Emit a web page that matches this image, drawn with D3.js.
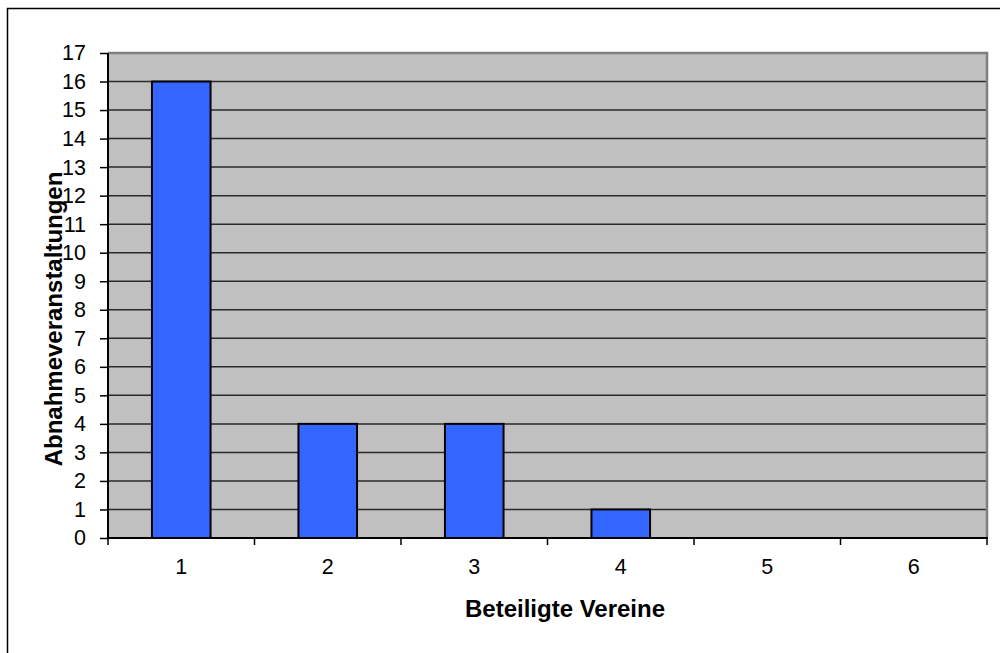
<!DOCTYPE html>
<html>
<head>
<meta charset="utf-8">
<script src="https://cdn.jsdelivr.net/npm/d3@7"></script>
<style>
  html, body { margin: 0; padding: 0; background: #fff; }
  svg { display: block; font-family: "Liberation Sans", Arial, sans-serif; }
</style>
</head>
<body>
<svg id="chart" width="1000" height="653"></svg>
<script>
// Number of participating clubs per event, and how many events had that many
const categories = ["1", "2", "3", "4", "5", "6"];
const events = [16, 4, 4, 1, 0, 0];
const yTicks = d3.range(0, 18);
const xTitle = "Beteiligte Vereine";
const yTitle = "Abnahmeveranstaltungen";

const svg = d3.select("#chart");
const plot = { left: 108, right: 987, top: 53, bottom: 538 };

// Outer chart frame
svg.append("rect")
  .attr("x", 7.5).attr("y", 8.5)
  .attr("width", 1000).attr("height", 700)
  .attr("fill", "#fff").attr("stroke", "#000").attr("stroke-width", 1.5);

const x = d3.scaleBand()
  .domain(categories)
  .range([plot.left, plot.right])
  .paddingInner(0.6).paddingOuter(0.3);

const y = d3.scaleLinear()
  .domain([0, 17])
  .range([plot.bottom, plot.top]);

// Plot area background
svg.append("rect")
  .attr("x", plot.left).attr("y", plot.top)
  .attr("width", plot.right - plot.left).attr("height", plot.bottom - plot.top)
  .attr("fill", "#c0c0c0");

// Horizontal gridlines
svg.append("g")
  .selectAll("line")
  .data(yTicks.filter(d => d > 0 && d < 17))
  .join("line")
  .attr("x1", plot.left).attr("x2", plot.right)
  .attr("y1", d => y(d)).attr("y2", d => y(d))
  .attr("stroke", "#2a2a2a").attr("stroke-width", 1.5);

// Plot border (top and right)
svg.append("path")
  .attr("d", `M${plot.left},${plot.top}H${plot.right}V${plot.bottom}`)
  .attr("fill", "none").attr("stroke", "#808080").attr("stroke-width", 2.5);

// Bars
svg.append("g")
  .selectAll("rect")
  .data(categories.map((c, i) => ({ c, v: events[i] })).filter(d => d.v > 0))
  .join("rect")
  .attr("x", d => x(d.c))
  .attr("y", d => y(d.v))
  .attr("width", x.bandwidth())
  .attr("height", d => y(0) - y(d.v))
  .attr("fill", "#3366ff")
  .attr("stroke", "#000").attr("stroke-width", 2);

// Y axis
const yAxis = svg.append("g")
  .attr("transform", `translate(${plot.left},0)`)
  .call(d3.axisLeft(y).tickValues(yTicks).tickFormat(d3.format("d")).tickSize(8).tickPadding(14));
yAxis.select(".domain").attr("stroke", "#000").attr("stroke-width", 2)
  .attr("d", `M0,${plot.top}V${plot.bottom}`);
yAxis.selectAll(".tick line").attr("stroke", "#000").attr("stroke-width", 1.5);
yAxis.selectAll(".tick text")
  .attr("font-size", 21.5).attr("fill", "#000")
  .attr("font-family", "Liberation Sans, Arial, sans-serif");

// X axis: ticks sit on category boundaries, labels at category centres
const boundaries = d3.range(1, categories.length).map(i => plot.left + i * (plot.right - plot.left) / categories.length);
const xAxis = svg.append("g");
xAxis.append("line")
  .attr("x1", plot.left).attr("x2", plot.right + 1)
  .attr("y1", plot.bottom).attr("y2", plot.bottom)
  .attr("stroke", "#000").attr("stroke-width", 2);
xAxis.selectAll("line.tick")
  .data([plot.left, ...boundaries, plot.right])
  .join("line").attr("class", "tick")
  .attr("x1", d => d).attr("x2", d => d)
  .attr("y1", plot.bottom).attr("y2", plot.bottom + 7)
  .attr("stroke", "#000").attr("stroke-width", 1.5);
xAxis.selectAll("text")
  .data(categories)
  .join("text")
  .attr("x", d => x(d) + x.bandwidth() / 2)
  .attr("y", 574)
  .attr("text-anchor", "middle")
  .attr("font-size", 21.5)
  .attr("fill", "#000")
  .text(d => d);

// Axis titles
svg.append("text")
  .attr("x", 565).attr("y", 617)
  .attr("text-anchor", "middle")
  .attr("font-size", 24).attr("font-weight", "bold")
  .text(xTitle);

svg.append("text")
  .attr("transform", "translate(62,319) rotate(-90)")
  .attr("text-anchor", "middle")
  .attr("font-size", 24).attr("font-weight", "bold")
  .text(yTitle);
</script>
</body>
</html>
